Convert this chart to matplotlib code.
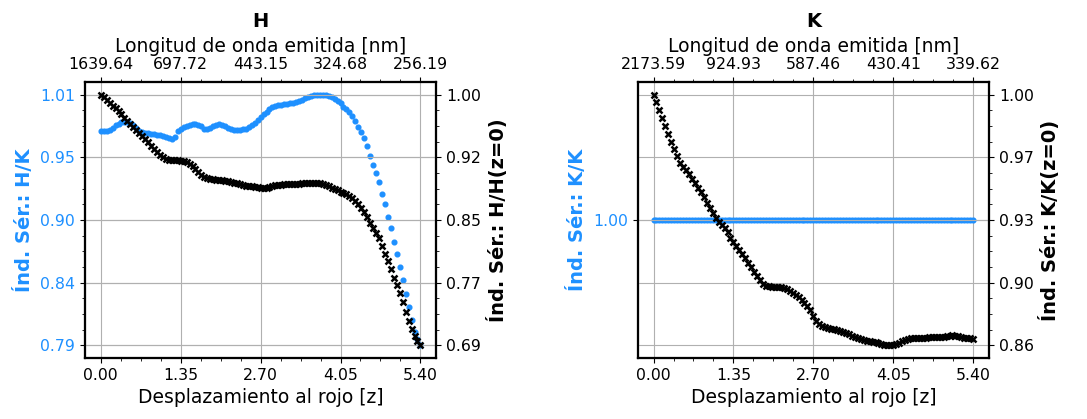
import numpy as np
import matplotlib
matplotlib.use('Agg')
import matplotlib.pyplot as plt
from matplotlib.ticker import AutoMinorLocator

# redshift grid
z = np.linspace(0, 5.4, 109)

# observed wavelengths of the bands [nm]
lam_H = 1639.64
lam_K = 2173.59

# H panel: colour index H/K (left) and H/H(z=0) (right)
hk = [0.9777, 0.9772, 0.9776, 0.9785, 0.9805, 0.9826, 0.9840, 0.9850, 0.9853, 0.9851,
      0.9844, 0.9825, 0.9800, 0.9775, 0.9762, 0.9757, 0.9753, 0.9750, 0.9747, 0.9743,
      0.9737, 0.9730, 0.9722, 0.9713, 0.9704, 0.9718, 0.9772, 0.9790, 0.9806, 0.9818,
      0.9828, 0.9833, 0.9835, 0.9830, 0.9818, 0.9796, 0.9792, 0.9805, 0.9821, 0.9830,
      0.9834, 0.9830, 0.9820, 0.9805, 0.9792, 0.9785, 0.9782, 0.9784, 0.9789, 0.9795,
      0.9812, 0.9825, 0.9848, 0.9872, 0.9895, 0.9922, 0.9945, 0.9968, 0.9983, 0.9994,
      1.0000, 1.0006, 1.0010, 1.0014, 1.0018, 1.0022, 1.0030, 1.0040, 1.0050, 1.0062,
      1.0075, 1.0083, 1.0089, 1.0093, 1.0095, 1.0094, 1.0090, 1.0082, 1.0071, 1.0058,
      1.0042, 1.0020, 0.9990, 0.9968, 0.9940, 0.9905, 0.9866, 0.9812, 0.9763, 0.9710,
      0.9639, 0.9554, 0.9478, 0.9402, 0.9321, 0.9220, 0.9131, 0.9020, 0.8915, 0.8800,
      0.8690, 0.8577, 0.8458, 0.8340, 0.8222, 0.8110, 0.8002, 0.7937, 0.7885]
hh0 = [1.0000, 0.9967, 0.9933, 0.9898, 0.9866, 0.9831, 0.9795, 0.9757, 0.9718, 0.9680,
       0.9642, 0.9604, 0.9566, 0.9528, 0.9490, 0.9452, 0.9413, 0.9375, 0.9338, 0.9300,
       0.9263, 0.9228, 0.9205, 0.9193, 0.9191, 0.9192, 0.9193, 0.9190, 0.9182, 0.9170,
       0.9150, 0.9124, 0.9092, 0.9050, 0.9015, 0.8988, 0.8972, 0.8963, 0.8958, 0.8954,
       0.8950, 0.8946, 0.8940, 0.8934, 0.8928, 0.8920, 0.8910, 0.8900, 0.8890, 0.8881,
       0.8876, 0.8872, 0.8868, 0.8862, 0.8858, 0.8856, 0.8858, 0.8866, 0.8876, 0.8884,
       0.8890, 0.8895, 0.8898, 0.8900, 0.8901, 0.8902, 0.8904, 0.8907, 0.8909, 0.8912,
       0.8915, 0.8917, 0.8917, 0.8915, 0.8912, 0.8906, 0.8892, 0.8876, 0.8858, 0.8841,
       0.8825, 0.8809, 0.8792, 0.8776, 0.8755, 0.8728, 0.8695, 0.8660, 0.8606, 0.8560,
       0.8500, 0.8427, 0.8360, 0.8303, 0.8240, 0.8138, 0.8048, 0.7956, 0.7860, 0.7750,
       0.7663, 0.7558, 0.7447, 0.7335, 0.7222, 0.7116, 0.7030, 0.6970, 0.6920]

# K panel: K/K (left, constant) and K/K(z=0) (right)
kk = [1.0] * 109
kk0 = [1.0000, 0.9957, 0.9915, 0.9869, 0.9828, 0.9783, 0.9739, 0.9701, 0.9663, 0.9626,
       0.9602, 0.9583, 0.9561, 0.9537, 0.9512, 0.9488, 0.9462, 0.9434, 0.9405, 0.9377,
       0.9348, 0.9320, 0.9298, 0.9280, 0.9265, 0.9242, 0.9212, 0.9188, 0.9168, 0.9146,
       0.9123, 0.9098, 0.9074, 0.9052, 0.9026, 0.9001, 0.8980, 0.8960, 0.8948, 0.8944,
       0.8943, 0.8943, 0.8943, 0.8941, 0.8938, 0.8929, 0.8920, 0.8908, 0.8897, 0.8886,
       0.8868, 0.8852, 0.8836, 0.8812, 0.8780, 0.8754, 0.8738, 0.8727, 0.8720, 0.8716,
       0.8712, 0.8709, 0.8705, 0.8700, 0.8694, 0.8688, 0.8681, 0.8673, 0.8667, 0.8660,
       0.8654, 0.8648, 0.8645, 0.8642, 0.8639, 0.8636, 0.8632, 0.8628, 0.8624, 0.8621,
       0.8620, 0.8621, 0.8627, 0.8635, 0.8644, 0.8650, 0.8656, 0.8659, 0.8661, 0.8662,
       0.8662, 0.8662, 0.8662, 0.8663, 0.8664, 0.8665, 0.8666, 0.8667, 0.8668, 0.8670,
       0.8672, 0.8674, 0.8673, 0.8669, 0.8665, 0.8662, 0.8661, 0.8659, 0.8657]

BLUE = '#1e90ff'
TICK_FS = 11.3
XLAB_FS = 13.5
YLAB_FS = 14


def panel(ax, band, lam0, left_vals, right_vals, left_label, right_label):
    ax.plot(z, left_vals, 'o', color=BLUE, ms=3.4, mec=BLUE)
    axr = ax.twinx()
    axr.plot(z, right_vals, 'x', color='k', ms=4.2, mew=1.8)

    # bottom axis: redshift
    xt = np.linspace(0, 5.4, 5)
    ax.set_xticks(xt)
    ax.set_xticklabels([f'{v:.2f}' for v in xt])
    ax.xaxis.set_minor_locator(AutoMinorLocator(4))
    ax.set_xlabel('Desplazamiento al rojo [z]', fontsize=XLAB_FS)

    # left axis
    lt = np.unique(np.linspace(min(left_vals), max(left_vals), 5))
    ax.set_yticks(lt)
    ax.set_yticklabels([f'{v:.2f}' for v in lt])
    if len(lt) > 1:
        ax.yaxis.set_minor_locator(AutoMinorLocator(4))
    ax.tick_params(axis='y', labelcolor=BLUE)
    ax.set_ylabel(left_label, color=BLUE, fontweight='bold', fontsize=YLAB_FS)

    # right axis
    rt = np.linspace(min(right_vals), max(right_vals), 5)
    axr.set_yticks(rt)
    axr.set_yticklabels([f'{v:.2f}' for v in rt])
    axr.yaxis.set_minor_locator(AutoMinorLocator(4))
    axr.set_ylabel(right_label, fontweight='bold', fontsize=YLAB_FS)

    for a in (ax, axr):
        a.tick_params(labelsize=TICK_FS)
    ax.grid(True, color='#b0b0b0')
    axr.grid(True, axis='y', color='#b0b0b0')

    # top axis: emitted wavelength
    axt = ax.twiny()
    axt.set_xlim(ax.get_xlim())
    axt.set_xticks(xt)
    axt.set_xticklabels([f'{lam0 / (1 + v):.2f}' for v in xt])
    axt.xaxis.set_minor_locator(AutoMinorLocator(4))
    axt.tick_params(labelsize=TICK_FS)
    axt.set_xlabel('Longitud de onda emitida [nm]', fontsize=XLAB_FS)
    axt.set_title(band, fontweight='bold', fontsize=14, pad=7)

    for a in (ax, axr, axt):
        for s in a.spines.values():
            s.set_linewidth(1.5)


fig, (ax1, ax2) = plt.subplots(1, 2, figsize=(10.87, 4.19), dpi=100)
fig.subplots_adjust(left=0.078, right=0.910, bottom=0.146, top=0.804, wspace=0.572)

panel(ax1, 'H', lam_H, hk, hh0, 'Índ. Sér.: H/K', 'Índ. Sér.: H/H(z=0)')
panel(ax2, 'K', lam_K, kk, kk0, 'Índ. Sér.: K/K', 'Índ. Sér.: K/K(z=0)')

fig.savefig('out.png', dpi=100)
